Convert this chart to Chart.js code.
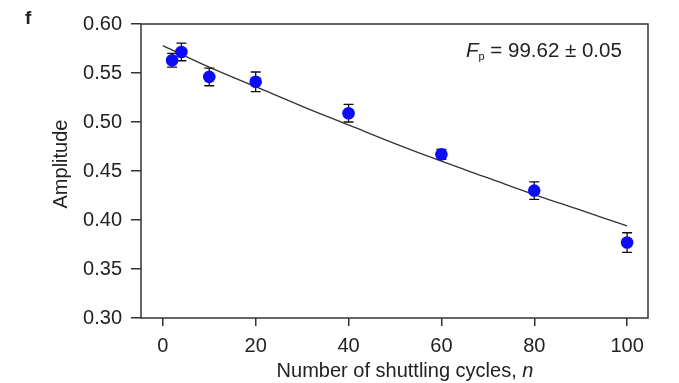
<!DOCTYPE html>
<html>
<head>
<meta charset="utf-8">
<script src="https://cdn.jsdelivr.net/npm/chart.js@4/dist/chart.umd.min.js"></script>
<style>
  html, body { margin: 0; padding: 0; background: #fff; }
  #wrap { width: 679px; height: 383px; position: relative; }
</style>
</head>
<body>
<div id="wrap"><canvas id="c" width="679" height="383"></canvas></div>
<script>
// ---- data ----
const cycles = [2, 4, 10, 20, 40, 60, 80, 100];
const amplitude = [0.563, 0.5715, 0.546, 0.541, 0.509, 0.467, 0.430, 0.377];
const amplitudeErr = [0.007, 0.009, 0.009, 0.010, 0.009, 0.005, 0.009, 0.010];
const fitCycles = [0, 10, 20, 30, 40, 50, 60, 70, 80, 90, 100];
const fitAmplitude = [0.578, 0.556, 0.536, 0.516, 0.497, 0.478, 0.460, 0.443, 0.426, 0.410, 0.394];
const xTicks = [0, 20, 40, 60, 80, 100];
const yTicks = [0.30, 0.35, 0.40, 0.45, 0.50, 0.55, 0.60];
const xTitle = 'Number of shuttling cycles, ';
const xTitleVar = 'n';
const yTitle = 'Amplitude';
const panelLabel = 'f';
const fitLabelMain = 'F';
const fitLabelSub = 'p';
const fitLabelRest = ' = 99.62 \u00b1 0.05';

const FONT = '"Liberation Sans", Arial, sans-serif';
const AXIS_COLOR = '#333';

const errorBarPlugin = {
  id: 'errorBars',
  beforeDatasetsDraw(chart) {
    const ctx = chart.ctx;
    const xs = chart.scales.x, ys = chart.scales.y;
    ctx.save();
    ctx.strokeStyle = '#111';
    ctx.lineWidth = 1.3;
    cycles.forEach((n, i) => {
      const px = xs.getPixelForValue(n);
      const top = ys.getPixelForValue(amplitude[i] + amplitudeErr[i]);
      const bot = ys.getPixelForValue(amplitude[i] - amplitudeErr[i]);
      ctx.beginPath();
      ctx.moveTo(px, top); ctx.lineTo(px, bot);
      ctx.moveTo(px - 5, top); ctx.lineTo(px + 5, top);
      ctx.moveTo(px - 5, bot); ctx.lineTo(px + 5, bot);
      ctx.stroke();
    });
    ctx.restore();
  }
};

const decorPlugin = {
  id: 'decor',
  afterDraw(chart) {
    const ctx = chart.ctx;
    const a = chart.chartArea;
    ctx.save();
    // frame
    ctx.strokeStyle = AXIS_COLOR;
    ctx.lineWidth = 1.5;
    ctx.strokeRect(a.left, a.top, a.right - a.left, a.bottom - a.top);
    ctx.fillStyle = '#222';
    // panel label
    ctx.font = 'bold 19px ' + FONT;
    ctx.textAlign = 'left';
    ctx.textBaseline = 'alphabetic';
    ctx.fillText(panelLabel, 25, 24);
    // x title
    ctx.font = '20px ' + FONT;
    const w1 = ctx.measureText(xTitle).width;
    ctx.font = 'italic 20px ' + FONT;
    const w2 = ctx.measureText(xTitleVar).width;
    let sx = 405 - (w1 + w2) / 2;
    ctx.font = '20px ' + FONT;
    ctx.fillText(xTitle, sx, 377);
    ctx.font = 'italic 20px ' + FONT;
    ctx.fillText(xTitleVar, sx + w1, 377);
    // y title
    ctx.save();
    ctx.translate(67, 164);
    ctx.rotate(-Math.PI / 2);
    ctx.font = '20px ' + FONT;
    ctx.textAlign = 'center';
    ctx.textBaseline = 'alphabetic';
    ctx.fillText(yTitle, 0, 0);
    ctx.restore();
    // fit annotation
    let ax = 466, ay = 57;
    ctx.font = 'italic 20.5px ' + FONT;
    ctx.fillText(fitLabelMain, ax, ay);
    ax += ctx.measureText(fitLabelMain).width;
    ctx.font = '11px ' + FONT;
    ctx.fillText(fitLabelSub, ax, ay + 3);
    ax += ctx.measureText(fitLabelSub).width;
    ctx.font = '20.5px ' + FONT;
    ctx.fillText(fitLabelRest, ax, ay);
    ctx.restore();
  }
};

new Chart(document.getElementById('c'), {
  type: 'scatter',
  data: {
    datasets: [
      {
        label: 'data',
        data: cycles.map((n, i) => ({ x: n, y: amplitude[i] })),
        backgroundColor: 'rgb(12,12,250)',
        borderColor: 'rgb(12,12,250)',
        pointRadius: 6.3,
        pointHoverRadius: 6.3,
        borderWidth: 0,
        order: 0
      },
      {
        label: 'fit',
        type: 'line',
        data: fitCycles.map((n, i) => ({ x: n, y: fitAmplitude[i] })),
        borderColor: '#333',
        borderWidth: 1.3,
        pointRadius: 0,
        fill: false,
        tension: 0.4,
        order: 1
      }
    ]
  },
  options: {
    responsive: false,
    animation: false,
    devicePixelRatio: 1,
    layout: { padding: { top: 24, right: 31, left: 0, bottom: 0 } },
    plugins: { legend: { display: false }, tooltip: { enabled: false } },
    scales: {
      x: {
        type: 'linear',
        min: -4.7,
        max: 104.5,
        afterFit: s => { s.height = 65; },
        afterBuildTicks: s => { s.ticks = xTicks.map(v => ({ value: v })); },
        grid: { drawOnChartArea: false, drawTicks: true, tickLength: 8, color: AXIS_COLOR, lineWidth: 1.5 },
        border: { display: false },
        ticks: { color: '#222', font: { family: FONT, size: 20 }, padding: 8, maxRotation: 0, autoSkip: false }
      },
      y: {
        type: 'linear',
        min: 0.30,
        max: 0.60,
        afterFit: s => { s.width = 141; },
        afterBuildTicks: s => { s.ticks = yTicks.map(v => ({ value: v })); },
        grid: { drawOnChartArea: false, drawTicks: true, tickLength: 10, color: AXIS_COLOR, lineWidth: 1.5 },
        border: { display: false },
        ticks: { color: '#222', font: { family: FONT, size: 20 }, padding: 9, autoSkip: false,
                 callback: v => Number(v).toFixed(2) }
      }
    }
  },
  plugins: [errorBarPlugin, decorPlugin]
});
</script>
</body>
</html>
